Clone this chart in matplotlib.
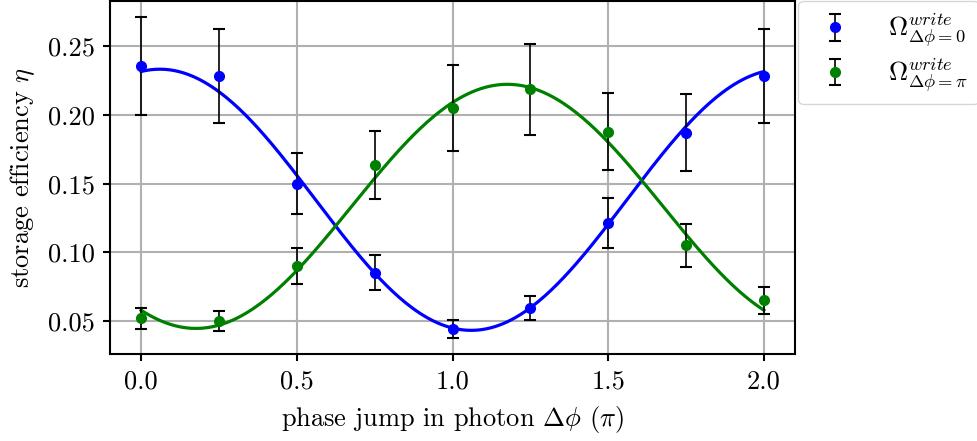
import numpy as np
import matplotlib.pyplot as plt

plt.rcParams['font.family'] = 'cmr10'
plt.rcParams['mathtext.fontset'] = 'cm'
plt.rcParams['axes.formatter.use_mathtext'] = True
plt.rcParams['font.size'] = 19

# phase jump in units of pi
phase = [0.0, 0.25, 0.5, 0.75, 1.0, 1.25, 1.5, 1.75, 2.0]

# storage efficiency, write pulse with no phase shift
eta_0 = [0.2355, 0.2283, 0.150, 0.0853, 0.0442, 0.0596, 0.1215, 0.1872, 0.2285]
err_0 = [0.0355, 0.034, 0.022, 0.0125, 0.0066, 0.009, 0.018, 0.028, 0.034]

# storage efficiency, write pulse shifted by pi
eta_pi = [0.0520, 0.0502, 0.0901, 0.1636, 0.2051, 0.2186, 0.1879, 0.1051, 0.0652]
err_pi = [0.0077, 0.0075, 0.013, 0.0245, 0.031, 0.033, 0.028, 0.0155, 0.0097]

# cosine fit parameters: offset, amplitude, phase of maximum (in pi)
fit_0 = (0.1383, 0.0950, 0.06)
fit_pi = (0.1335, 0.0888, 1.176)


def cos_fit(x, offset, amp, x0):
    return offset + amp * np.cos(np.pi * (x - x0))


fig = plt.figure(figsize=(9.78, 4.41), dpi=100)
ax = fig.add_axes([0.1125, 0.197, 0.7004, 0.801])

xs = np.linspace(0, 2, 300)
ax.errorbar(phase, eta_0, yerr=err_0, fmt='o', color='blue', ms=7,
            ecolor='black', elinewidth=1.2, capsize=4, capthick=1.5,
            label=r'$\Omega^{write}_{\Delta\phi=0}$', zorder=3)
ax.plot(xs, cos_fit(xs, *fit_0), color='blue', lw=2.3, zorder=2)

ax.errorbar(phase, eta_pi, yerr=err_pi, fmt='o', color='green', ms=7,
            ecolor='black', elinewidth=1.2, capsize=4, capthick=1.5,
            label=r'$\Omega^{write}_{\Delta\phi=\pi}$', zorder=3)
ax.plot(xs, cos_fit(xs, *fit_pi), color='green', lw=2.3, zorder=2)

ax.set_xlim(-0.1, 2.1)
ax.set_ylim(0.026, 0.283)
ax.set_xticks([0.0, 0.5, 1.0, 1.5, 2.0])
ax.set_yticks([0.05, 0.10, 0.15, 0.20, 0.25])
ax.set_xticklabels(['0.0', '0.5', '1.0', '1.5', '2.0'])
ax.set_yticklabels(['0.05', '0.10', '0.15', '0.20', '0.25'])
ax.grid(True, color='#b0b0b0', lw=1.5)
ax.set_axisbelow(True)
for sp in ax.spines.values():
    sp.set_linewidth(1.5)
ax.tick_params(width=1.5, length=5, pad=6)

ax.set_xlabel(r'phase jump in photon $\Delta\phi$ $(\pi)$', labelpad=8)
ax.set_ylabel(r'storage efficiency $\eta$', labelpad=8)

ax.legend(loc='upper left', bbox_to_anchor=(1.005, 1.0), borderaxespad=0,
          fontsize=19, handletextpad=1.0, labelspacing=0.25)

fig.savefig('out.png', dpi=100)
